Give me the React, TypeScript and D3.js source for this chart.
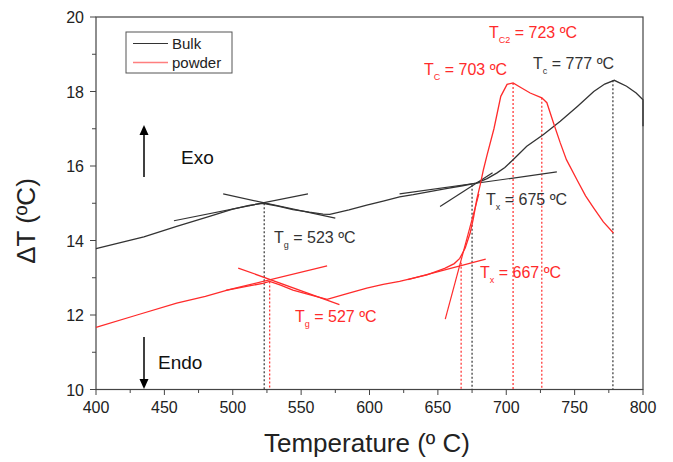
import React from "react";
import * as d3 from "d3";

// DTA curves
const bulkTemp = [400, 435, 459, 483, 500, 512, 522, 533, 544, 556, 566, 571, 585, 598, 610, 622, 632, 645, 656, 668, 678, 686, 693, 699, 705, 715, 727, 739.5, 752, 764, 772, 779, 788, 795, 800, 800];
const bulkDT = [13.78, 14.1, 14.38, 14.65, 14.84, 14.94, 15.0, 14.92, 14.83, 14.76, 14.71, 14.7, 14.82, 14.95, 15.06, 15.17, 15.23, 15.32, 15.39, 15.47, 15.54, 15.66, 15.81, 15.96, 16.17, 16.53, 16.84, 17.2, 17.6, 18.0, 18.2, 18.3, 18.14, 17.96, 17.78, 17.07];

const powderTemp = [400, 430, 459, 480, 496, 512, 522, 527, 535, 544, 556, 569, 583, 598, 610, 622, 642, 655, 662, 666, 670, 673.6, 676, 678.4, 681, 683.3, 686, 691, 696, 700.6, 705, 710, 717.5, 726, 729.7, 734.5, 739.5, 744, 751.7, 758, 764, 771, 778.4];
const powderDT = [11.67, 12.0, 12.32, 12.5, 12.67, 12.78, 12.85, 12.9, 12.8, 12.67, 12.55, 12.42, 12.57, 12.72, 12.82, 12.9, 13.08, 13.25, 13.38, 13.52, 13.8, 14.2, 14.6, 15.1, 15.5, 15.9, 16.3, 17.0, 17.87, 18.19, 18.23, 18.12, 17.96, 17.83, 17.7, 17.16, 16.62, 16.17, 15.63, 15.2, 14.87, 14.5, 14.2];

// tangent construction lines [t1, v1, t2, v2]
const bulkTangents = [
  [457, 14.53, 555, 15.25],
  [493, 15.25, 575, 14.6],
  [622, 15.25, 737, 15.84],
  [651.6, 14.91, 690, 15.82],
];
const powderTangents = [
  [495, 12.66, 569, 13.32],
  [504, 13.26, 578, 12.28],
  [628, 12.95, 685, 13.5],
  [655.4, 11.89, 680, 15.25],
];

// dotted drop lines [temperature, value at curve, series]
const markTemp = [523, 527, 667, 675, 705, 726, 778];
const markTop = [15.0, 12.9, 13.4, 15.5, 18.23, 17.83, 18.3];
const markSeries = ["bulk", "powder", "powder", "bulk", "powder", "powder", "bulk"];

// annotations
const noteSub = ["g", "g", "x", "x", "C", "C2", "c"];
const noteText = ["= 523 ºC", "= 527 ºC", "= 675 ºC", "= 667 ºC", "= 703 ºC", "= 723 ºC", "= 777 ºC"];
const noteSeries = ["bulk", "powder", "bulk", "powder", "powder", "powder", "bulk"];
const noteX = [274, 295, 486, 480, 424, 489, 533];
const noteY = [243, 322, 205, 278, 75, 38, 69];

const xTicks = [400, 450, 500, 550, 600, 650, 700, 750, 800];
const xMinor = [425, 475, 525, 575, 625, 675, 725, 775];
const yTicks = [10, 12, 14, 16, 18, 20];
const yMinor = [11, 13, 15, 17, 19];

const BLACK = "#333";
const RED = "#ff2b2b";
const FONT = "'Liberation Sans', Arial, sans-serif";

export default function App() {
  const x = d3.scaleLinear().domain([400, 800]).range([96, 643]);
  const y = d3.scaleLinear().domain([10, 20]).range([389.5, 17]);

  const line = d3.line<number>()
    .x(d => d[0])
    .y(d => d[1]);

  const bulkPath = line(bulkTemp.map((t, i) => [x(t), y(bulkDT[i])] as any));
  const powderPath = line(powderTemp.map((t, i) => [x(t), y(powderDT[i])] as any));

  const colorOf = (s: string) => (s === "bulk" ? BLACK : RED);

  return (
    <svg width={673} height={462} style={{ position: "absolute", left: 0, top: 0, background: "#fff" }} fontFamily={FONT}>
      {/* frame */}
      <rect x={96} y={17} width={547} height={372.5} fill="none" stroke="#444" strokeWidth={1.2} />

      {/* x ticks */}
      {xTicks.map(t => (
        <g key={"xt" + t}>
          <line x1={x(t)} x2={x(t)} y1={389.5} y2={395} stroke="#444" />
          <text x={x(t)} y={413} textAnchor="middle" fontSize={16} fill="#222">{t}</text>
        </g>
      ))}
      {xMinor.map(t => (
        <line key={"xm" + t} x1={x(t)} x2={x(t)} y1={389.5} y2={393} stroke="#444" />
      ))}

      {/* y ticks */}
      {yTicks.map(v => (
        <g key={"yt" + v}>
          <line x1={90} x2={96} y1={y(v)} y2={y(v)} stroke="#444" />
          <text x={84} y={y(v) + 6} textAnchor="end" fontSize={16} fill="#222">{v}</text>
        </g>
      ))}
      {yMinor.map(v => (
        <line key={"ym" + v} x1={92} x2={96} y1={y(v)} y2={y(v)} stroke="#444" />
      ))}

      {/* axis titles */}
      <text x={367} y={452} textAnchor="middle" fontSize={26} fill="#222">Temperature (º C)</text>
      <text transform="translate(35,221) rotate(-90)" textAnchor="middle" fontSize={26} fill="#222">ΔT (ºC)</text>

      {/* dotted drop lines */}
      {markTemp.map((t, i) => (
        <line key={"dl" + i} x1={x(t)} x2={x(t)} y1={y(markTop[i])} y2={y(10)}
          stroke={colorOf(markSeries[i])} strokeWidth={1.2} strokeDasharray="2,2" />
      ))}

      {/* tangent lines */}
      {bulkTangents.map((d, i) => (
        <line key={"bt" + i} x1={x(d[0])} y1={y(d[1])} x2={x(d[2])} y2={y(d[3])} stroke={BLACK} strokeWidth={1.2} />
      ))}
      {powderTangents.map((d, i) => (
        <line key={"pt" + i} x1={x(d[0])} y1={y(d[1])} x2={x(d[2])} y2={y(d[3])} stroke={RED} strokeWidth={1.2} />
      ))}

      {/* curves */}
      <path d={bulkPath || ""} fill="none" stroke={BLACK} strokeWidth={1.3} />
      <path d={powderPath || ""} fill="none" stroke={RED} strokeWidth={1.3} />

      {/* annotations */}
      {noteSub.map((s, i) => (
        <text key={"nt" + i} x={noteX[i]} y={noteY[i]} fontSize={16} fill={colorOf(noteSeries[i])}>
          T<tspan fontSize={9} dy={5}>{s}</tspan><tspan dy={-5}>{" " + noteText[i]}</tspan>
        </text>
      ))}

      {/* legend */}
      <rect x={126} y={32} width={106} height={41} fill="#fff" stroke="#555" strokeWidth={1} />
      <line x1={133} x2={168} y1={43.5} y2={43.5} stroke={BLACK} strokeWidth={1.2} />
      <line x1={133} x2={168} y1={62.5} y2={62.5} stroke={RED} strokeWidth={1.5} opacity={0.6} />
      <text x={172} y={49} fontSize={15} fill="#222">Bulk</text>
      <text x={172} y={68} fontSize={15} fill="#222">powder</text>

      {/* Exo / Endo arrows */}
      <line x1={144} x2={144} y1={177} y2={134} stroke="#000" strokeWidth={1.5} />
      <path d="M144,125 L139.5,135 L148.5,135 Z" fill="#000" />
      <text x={181} y={164} fontSize={19} fill="#111">Exo</text>
      <line x1={144} x2={144} y1={337} y2={380} stroke="#000" strokeWidth={1.5} />
      <path d="M144,389 L139.5,379 L148.5,379 Z" fill="#000" />
      <text x={158} y={369} fontSize={19} fill="#111">Endo</text>
    </svg>
  );
}
